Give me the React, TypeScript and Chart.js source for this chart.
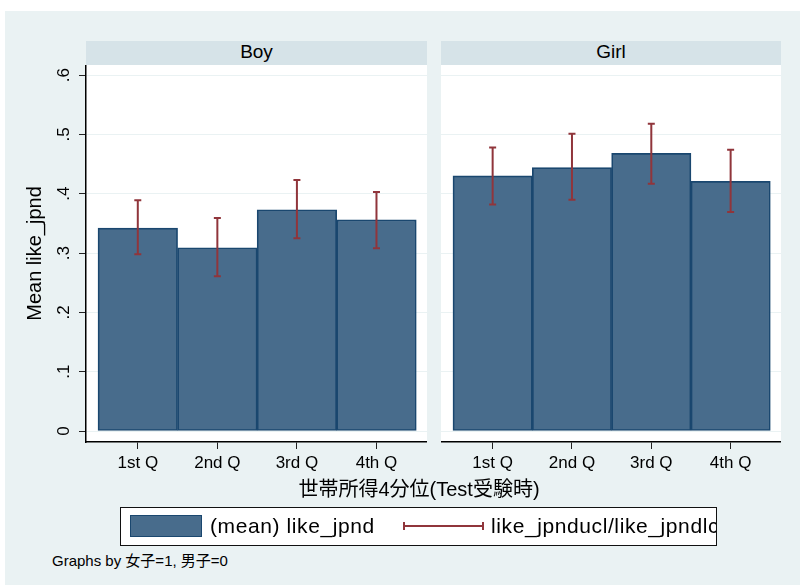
import React, { useEffect, useRef } from "react";
import { Chart, registerables } from "chart.js";

Chart.register(...registerables);

const categories = ["1st Q", "2nd Q", "3rd Q", "4th Q"];
const boyMean = [0.342, 0.309, 0.373, 0.356];
const boyUcl = [0.389, 0.359, 0.423, 0.403];
const boyLcl = [0.298, 0.261, 0.325, 0.308];
const girlMean = [0.43, 0.444, 0.468, 0.421];
const girlUcl = [0.478, 0.501, 0.518, 0.474];
const girlLcl = [0.382, 0.39, 0.417, 0.369];
const yTickValues = [0, 0.1, 0.2, 0.3, 0.4, 0.5, 0.6];
const yTickLabels = ["0", ".1", ".2", ".3", ".4", ".5", ".6"];

const FONT = '"Liberation Sans", Arial, "Noto Sans CJK JP", sans-serif';
const BAR_FILL = "#486c8c";
const BAR_LINE = "#1a476f";
const CI_COLOR = "#90353b";
const BG = "#eaf2f3";
const STRIP = "#d6e3e8";

const whiteArea = {
  id: "whiteArea",
  beforeDraw(chart: any) {
    const { ctx, chartArea } = chart;
    ctx.save();
    ctx.fillStyle = "#ffffff";
    ctx.fillRect(chartArea.left, chartArea.top, chartArea.right - chartArea.left, chartArea.bottom - chartArea.top);
    ctx.restore();
  },
};

function makeErrorBars(ucl: number[], lcl: number[]) {
  return {
    id: "errorBars",
    afterDatasetsDraw(chart: any) {
      const { ctx } = chart;
      const xs = chart.scales.x;
      const ys = chart.scales.y;
      ctx.save();
      ctx.strokeStyle = CI_COLOR;
      ctx.lineWidth = 2;
      for (let i = 0; i < ucl.length; i++) {
        const x = xs.getPixelForValue(i + 1);
        const yt = ys.getPixelForValue(ucl[i]);
        const yb = ys.getPixelForValue(lcl[i]);
        ctx.beginPath();
        ctx.moveTo(x, yt);
        ctx.lineTo(x, yb);
        ctx.moveTo(x - 3.5, yt);
        ctx.lineTo(x + 3.5, yt);
        ctx.moveTo(x - 3.5, yb);
        ctx.lineTo(x + 3.5, yb);
        ctx.stroke();
      }
      ctx.restore();
    },
  };
}

const yLabelsPlugin = {
  id: "yLabels",
  afterDraw(chart: any) {
    const { ctx } = chart;
    const ys = chart.scales.y;
    ctx.save();
    ctx.fillStyle = "#000";
    ctx.font = `17px ${FONT}`;
    ctx.textAlign = "center";
    ctx.textBaseline = "middle";
    yTickValues.forEach((v, i) => {
      const y = ys.getPixelForValue(v);
      ctx.save();
      ctx.translate(64, y);
      ctx.rotate(-Math.PI / 2);
      ctx.fillText(yTickLabels[i], 0, 0);
      ctx.restore();
    });
    ctx.restore();
  },
};

function Panel(props: { mean: number[]; ucl: number[]; lcl: number[]; withAxis: boolean; left: number; width: number }) {
  const ref = useRef<HTMLCanvasElement | null>(null);
  useEffect(() => {
    if (!ref.current) return;
    const { mean, ucl, lcl, withAxis } = props;
    const plugins: any[] = [whiteArea, makeErrorBars(ucl, lcl)];
    if (withAxis) plugins.push(yLabelsPlugin);
    const chart = new Chart(ref.current, {
      type: "bar",
      data: {
        datasets: [
          {
            label: "(mean) like_jpnd",
            data: mean.map((v, i) => ({ x: i + 1, y: v })),
            backgroundColor: BAR_FILL,
            borderColor: BAR_LINE,
            borderWidth: 1.7,
            borderSkipped: false,
            barPercentage: 1,
            categoryPercentage: 1,
          } as any,
        ],
      },
      options: {
        responsive: false,
        animation: false,
        devicePixelRatio: 1,
        layout: { padding: 0 },
        plugins: { legend: { display: false }, tooltip: { enabled: false }, title: { display: false } },
        scales: {
          x: {
            type: "linear",
            offset: false,
            min: 0.349,
            max: 4.635,
            afterBuildTicks: (s: any) => {
              s.ticks = categories.map((_, i) => ({ value: i + 1 }));
            },
            afterFit: (s: any) => {
              s.height = 40;
            },
            ticks: {
              autoSkip: false,
              maxRotation: 0,
              minRotation: 0,
              padding: 4,
              color: "#000",
              font: { size: 17, family: FONT },
              callback: (_v: any, i: number) => categories[i],
            },
            grid: {
              offset: false,
              drawOnChartArea: false,
              drawTicks: true,
              tickLength: 7,
              tickColor: "#222",
              lineWidth: 1,
            },
            border: { display: true, color: "#000", width: 1.5 },
          },
          y: {
            type: "linear",
            min: -0.0185,
            max: 0.617,
            afterBuildTicks: (s: any) => {
              s.ticks = yTickValues.map((v) => ({ value: v }));
            },
            afterFit: (s: any) => {
              s.width = withAxis ? 86 : 0;
            },
            ticks: { display: false },
            grid: {
              color: BG,
              lineWidth: 1,
              drawTicks: withAxis,
              tickLength: 7,
              tickColor: "#222",
            },
            border: { display: withAxis, color: "#000", width: 1.5 },
            title: {
              display: withAxis,
              text: "Mean like_jpnd",
              color: "#000",
              font: { size: 20, family: FONT },
              padding: { top: 23, bottom: 0 },
            },
          },
        },
      } as any,
      plugins,
    });
    return () => chart.destroy();
  }, []);
  return (
    <canvas
      ref={ref}
      width={props.width}
      height={417}
      style={{ position: "absolute", left: props.left, top: 65, width: props.width, height: 417 }}
    />
  );
}

export default function App() {
  const text: React.CSSProperties = { fontFamily: FONT, color: "#000" };
  const strip: React.CSSProperties = {
    ...text,
    position: "absolute",
    top: 41,
    height: 24,
    background: STRIP,
    fontSize: 19,
    lineHeight: "22px",
    textAlign: "center",
  };
  return (
    <div style={{ position: "fixed", left: 0, top: 0, width: 800, height: 585, background: "#fff", overflow: "hidden" }}>
      <div style={{ position: "absolute", left: 5, top: 11, width: 795, height: 574, background: BG }} />
      <div style={{ ...strip, left: 86, width: 341 }}>Boy</div>
      <div style={{ ...strip, left: 441, width: 340 }}>Girl</div>
      <Panel mean={boyMean} ucl={boyUcl} lcl={boyLcl} withAxis={true} left={0} width={427} />
      <Panel mean={girlMean} ucl={girlUcl} lcl={girlLcl} withAxis={false} left={441} width={340} />
      <div
        style={{
          ...text,
          position: "absolute",
          left: 219,
          top: 476,
          width: 400,
          textAlign: "center",
          fontSize: 20,
          lineHeight: "26px",
          whiteSpace: "nowrap",
        }}
      >
        世帯所得4分位(Test受験時)
      </div>
      <div
        style={{
          position: "absolute",
          left: 120,
          top: 507,
          width: 595,
          height: 37,
          background: "#fff",
          border: "1.5px solid #111",
          overflow: "hidden",
        }}
      >
        <div
          style={{
            position: "absolute",
            left: 9,
            top: 7,
            width: 70,
            height: 20,
            background: BAR_FILL,
            border: `1.5px solid ${BAR_LINE}`,
          }}
        />
        <div
          style={{
            ...text,
            position: "absolute",
            left: 89,
            top: 6,
            fontSize: 21,
            lineHeight: "24px",
            letterSpacing: "0.6px",
            whiteSpace: "nowrap",
          }}
        >
          (mean) like_jpnd
        </div>
        <div style={{ position: "absolute", left: 283, top: 17, width: 79, height: 2, background: CI_COLOR }} />
        <div style={{ position: "absolute", left: 282, top: 14, width: 2, height: 8, background: CI_COLOR }} />
        <div style={{ position: "absolute", left: 361, top: 14, width: 2, height: 8, background: CI_COLOR }} />
        <div
          style={{
            ...text,
            position: "absolute",
            left: 370,
            top: 6,
            fontSize: 21,
            lineHeight: "24px",
            letterSpacing: "0.6px",
            whiteSpace: "nowrap",
          }}
        >
          like_jpnducl/like_jpndlc
        </div>
      </div>
      <div style={{ ...text, position: "absolute", left: 52, top: 552, fontSize: 15, lineHeight: "18px", whiteSpace: "nowrap" }}>
        Graphs by 女子=1, 男子=0
      </div>
    </div>
  );
}
